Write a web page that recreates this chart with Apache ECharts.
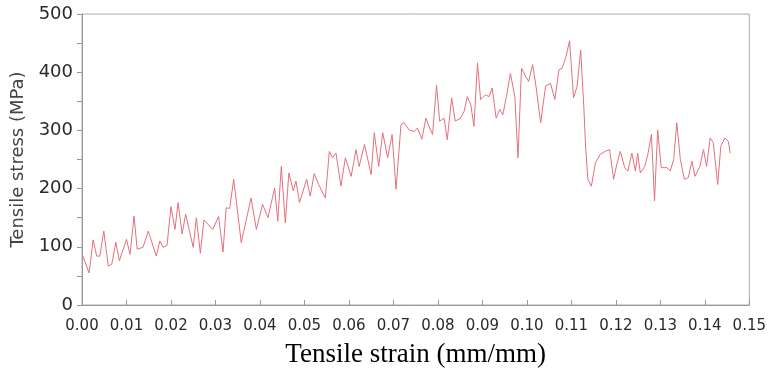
<!DOCTYPE html>
<html><head><meta charset="utf-8">
<script src="https://cdn.jsdelivr.net/npm/echarts@6/dist/echarts.min.js"></script>
<style>html,body{margin:0;padding:0;background:#fff}#c{width:769px;height:373px}</style>
</head><body><div id="c"></div>
<script>
const strain = [0.0002,0.0016,0.0025,0.0033,0.0040,0.0049,0.0059,0.0067,0.0076,0.0084,0.0100,0.0108,0.0117,0.0124,0.0137,0.0149,0.0167,0.0175,0.0182,0.0191,0.0200,0.0209,0.0216,0.0225,0.0233,0.0250,0.0257,0.0266,0.0274,0.0294,0.0307,0.0317,0.0324,0.0332,0.0341,0.0358,0.0380,0.0392,0.0406,0.0418,0.0433,0.0440,0.0448,0.0457,0.0465,0.0475,0.0481,0.0489,0.0505,0.0513,0.0522,0.0532,0.0547,0.0556,0.0563,0.0571,0.0582,0.0592,0.0605,0.0616,0.0623,0.0635,0.0650,0.0657,0.0667,0.0676,0.0687,0.0697,0.0706,0.0717,0.0724,0.0735,0.0747,0.0754,0.0764,0.0773,0.0780,0.0788,0.0797,0.0804,0.0814,0.0821,0.0831,0.0839,0.0851,0.0859,0.0866,0.0874,0.0881,0.0889,0.0896,0.0907,0.0915,0.0922,0.0931,0.0939,0.0946,0.0954,0.0963,0.0973,0.0980,0.0988,0.0997,0.1004,0.1013,0.1021,0.1031,0.1042,0.1053,0.1063,0.1072,0.1079,0.1087,0.1096,0.1105,0.1113,0.1121,0.1128,0.1132,0.1137,0.1145,0.1154,0.1165,0.1176,0.1186,0.1195,0.1202,0.1210,0.1220,0.1227,0.1236,0.1244,0.1249,0.1255,0.1265,0.1272,0.1280,0.1287,0.1294,0.1302,0.1315,0.1322,0.1330,0.1337,0.1345,0.1354,0.1363,0.1371,0.1378,0.1389,0.1397,0.1404,0.1412,0.1419,0.1429,0.1436,0.1445,0.1453,0.1457];
const stress = [84,55,112,84,84,127,67,70,108,76,113,87,153,96,99,127,84,110,99,102,169,130,176,122,156,99,150,89,146,130,152,91,167,166,216,107,184,130,173,150,201,144,238,141,227,196,213,176,216,187,226,207,184,264,253,261,204,253,221,267,238,276,224,296,238,296,253,293,199,310,313,301,298,304,285,321,307,293,378,316,321,284,356,316,321,333,358,344,307,416,353,361,358,373,321,336,327,358,398,358,253,407,393,384,413,373,313,376,381,353,404,407,424,454,356,376,438,341,273,216,204,244,259,264,267,216,241,264,236,230,261,230,261,227,238,259,293,179,301,236,236,230,250,313,250,216,219,247,221,238,267,238,287,279,207,273,287,281,261];
const yTickLabels = ['0','100','200','300','400','500'];

const chart = echarts.init(document.getElementById('c'));
chart.setOption({
  animation: false,
  grid: {left: 82, right: 19, top: 14, bottom: 67, show: true, borderColor: '#aaaaaa', borderWidth: 1},
  xAxis: {
    type: 'value', min: 0, max: 0.15, interval: 0.01,
    name: 'Tensile strain (mm/mm)', nameLocation: 'middle', nameGap: 36,
    nameTextStyle: {fontFamily: 'Liberation Serif', fontSize: 27, color: '#000'},
    axisLine: {show: true, lineStyle: {color: '#999', width: 1}},
    axisTick: {show: true, inside: true, length: 5, lineStyle: {color: '#999'}},
    axisLabel: {fontFamily: 'DejaVu Sans', fontSize: 15, color: '#2a2a2a', margin: 14,
      formatter: v => v.toFixed(2)},
    splitLine: {show: false}
  },
  yAxis: {
    type: 'value', min: 0, max: 500, interval: 50,
    name: 'Tensile stress (MPa)', nameLocation: 'middle', nameGap: 50,
    nameTextStyle: {fontFamily: 'DejaVu Sans', fontSize: 18, color: '#444'},
    axisLine: {show: true, lineStyle: {color: '#999', width: 1}},
    axisTick: {show: true, length: 5, lineStyle: {color: '#999'}},
    axisLabel: {fontFamily: 'DejaVu Sans', fontSize: 18, color: '#2a2a2a', margin: 9,
      formatter: v => (v % 100 === 0 ? yTickLabels[v / 100] : '')},
    splitLine: {show: false}
  },
  series: [{
    type: 'line', showSymbol: false,
    data: strain.map((s, i) => [s, stress[i]]),
    lineStyle: {color: '#e4707c', width: 1}
  }]
});
</script></body></html>
